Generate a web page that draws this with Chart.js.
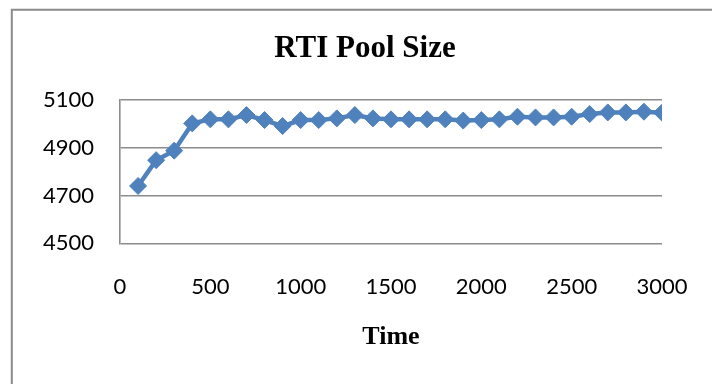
<!DOCTYPE html>
<html>
<head>
<meta charset="utf-8">
<title>RTI Pool Size</title>
<script src="https://cdn.jsdelivr.net/npm/chart.js@4/dist/chart.umd.min.js"></script>
<style>
  html, body { margin: 0; padding: 0; background: #ffffff; }
  #wrap { width: 712px; height: 384px; }
</style>
</head>
<body>
<div id="wrap"><canvas id="chart" width="712" height="384"></canvas></div>
<script>
// Simulation time steps and measured pool size at each step
const times = [100, 200, 300, 400, 500, 600, 700, 800, 900, 1000,
               1100, 1200, 1300, 1400, 1500, 1600, 1700, 1800, 1900, 2000,
               2100, 2200, 2300, 2400, 2500, 2600, 2700, 2800, 2900, 3000];
const poolSize = [4740, 4848, 4888, 5002, 5019, 5019, 5037, 5016, 4991, 5016,
                  5016, 5023, 5037, 5023, 5019, 5019, 5019, 5019, 5014, 5016,
                  5019, 5030, 5027, 5027, 5030, 5041, 5048, 5048, 5051, 5047];
const yTicks = [4500, 4700, 4900, 5100];
const xTicks = [0, 500, 1000, 1500, 2000, 2500, 3000];

const BLUE = '#4F81BD';
const GRID = '#8c8c8c';
const SERIF = '"Liberation Serif", "Times New Roman", serif';
const SANS = 'Lato, "Open Sans", sans-serif';

// Thin frame around the chart area (left and top edges)
const frame = {
  id: 'frame',
  beforeDraw(chart) {
    const ctx = chart.ctx;
    ctx.save();
    ctx.strokeStyle = '#8a8a8a';
    ctx.lineWidth = 2;
    ctx.beginPath();
    ctx.moveTo(11.8, chart.height);
    ctx.lineTo(11.8, 9.7);
    ctx.lineTo(chart.width, 9.7);
    ctx.stroke();
    ctx.restore();
  }
};

new Chart(document.getElementById('chart'), {
  type: 'line',
  data: {
    datasets: [{
      label: 'RTI Pool Size',
      data: times.map((t, i) => ({ x: t, y: poolSize[i] })),
      borderColor: BLUE,
      backgroundColor: BLUE,
      borderWidth: 4.5,
      pointStyle: 'rectRot',
      pointRadius: 8.5,
      pointBorderWidth: 1,
      pointBackgroundColor: BLUE,
      pointBorderColor: BLUE,
      tension: 0,
      fill: false
    }]
  },
  options: {
    responsive: false,
    devicePixelRatio: 1,
    animation: false,
    events: [],
    // negative right padding widens the title box so the title sits right of the plot centre
    layout: { padding: { top: 10, left: 12, right: -6, bottom: 0 } },
    plugins: {
      legend: { display: false },
      tooltip: { enabled: false },
      title: {
        display: true,
        text: 'RTI Pool Size',
        color: '#000',
        font: { family: SERIF, size: 31, weight: 'bold', lineHeight: 1.2 },
        padding: { top: 20, bottom: 32.8 }
      }
    },
    scales: {
      x: {
        type: 'linear',
        min: 0,
        max: 3000,
        afterBuildTicks(scale) { scale.ticks = xTicks.map(v => ({ value: v })); },
        afterFit(scale) { scale.height = 140.7; },
        grid: { display: false, drawTicks: true, tickLength: 6 },
        border: { display: false },
        ticks: {
          color: '#000',
          padding: 24.5,
          maxRotation: 0,
          autoSkip: false,
          font: { family: SANS, size: 22, lineHeight: 1.2 },
          callback: v => String(v)
        },
        title: {
          display: true,
          text: 'Time',
          color: '#000',
          font: { family: SERIF, size: 26, weight: 'bold', lineHeight: 1.2 },
          padding: { top: 0, bottom: 30.9 }
        }
      },
      y: {
        type: 'linear',
        min: 4500,
        max: 5100,
        afterBuildTicks(scale) { scale.ticks = yTicks.map(v => ({ value: v })); },
        afterFit(scale) { scale.width = 108; },
        grid: { color: GRID, lineWidth: 1.6, drawTicks: false },
        border: { display: true, color: GRID, width: 1.6 },
        ticks: {
          color: '#000',
          padding: 26,
          autoSkip: false,
          font: { family: SANS, size: 22, lineHeight: 1.2 },
          callback: v => String(v)
        }
      }
    }
  },
  plugins: [frame]
});
</script>
</body>
</html>
